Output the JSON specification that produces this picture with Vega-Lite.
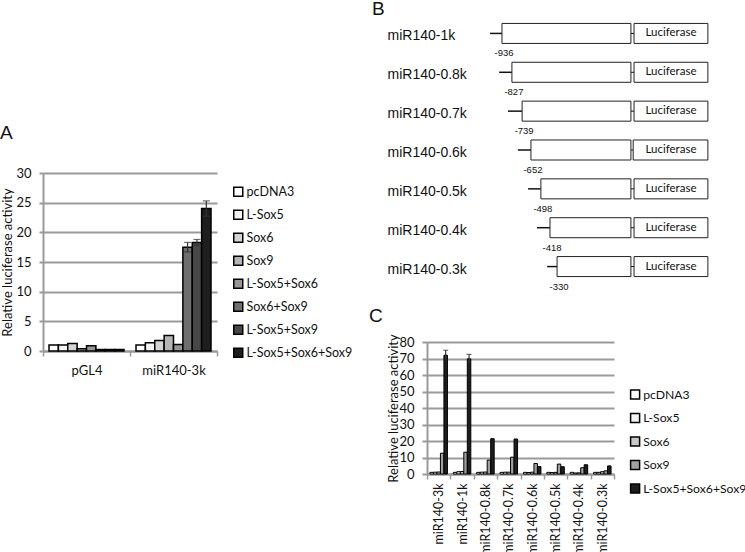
{
  "$schema": "https://vega.github.io/schema/vega-lite/v6.json",
  "padding": {"left": 0, "top": 0, "right": 0, "bottom": 0},
  "background": "white",
  "config": {
    "view": {"stroke": null},
    "font": "Lato",
    "axis": {"labelColor": "#111", "titleColor": "#111", "labelFont": "Lato", "titleFont": "Lato", "titleFontWeight": "normal"},
    "title": {"font": "Liberation Sans", "fontWeight": "normal", "color": "#111", "anchor": "start", "frame": "group"},
    "legend": {"labelFont": "Lato", "labelColor": "#111", "padding": 0}
  },
  "datasets": {
    "a": [
      {"group": "pGL4", "series": "pcDNA3", "value": 1.0, "lo": null, "hi": null},
      {"group": "pGL4", "series": "L-Sox5", "value": 1.0, "lo": null, "hi": null},
      {"group": "pGL4", "series": "Sox6", "value": 1.25, "lo": null, "hi": null},
      {"group": "pGL4", "series": "Sox9", "value": 0.4, "lo": null, "hi": null},
      {"group": "pGL4", "series": "L-Sox5+Sox6", "value": 0.9, "lo": null, "hi": null},
      {"group": "pGL4", "series": "Sox6+Sox9", "value": 0.25, "lo": null, "hi": null},
      {"group": "pGL4", "series": "L-Sox5+Sox9", "value": 0.25, "lo": null, "hi": null},
      {"group": "pGL4", "series": "L-Sox5+Sox6+Sox9", "value": 0.25, "lo": null, "hi": null},
      {"group": "miR140-3k", "series": "pcDNA3", "value": 1.0, "lo": null, "hi": null},
      {"group": "miR140-3k", "series": "L-Sox5", "value": 1.4, "lo": null, "hi": null},
      {"group": "miR140-3k", "series": "Sox6", "value": 1.75, "lo": null, "hi": null},
      {"group": "miR140-3k", "series": "Sox9", "value": 2.6, "lo": null, "hi": null},
      {"group": "miR140-3k", "series": "L-Sox5+Sox6", "value": 1.1, "lo": null, "hi": null},
      {"group": "miR140-3k", "series": "Sox6+Sox9", "value": 17.5, "lo": 16.7, "hi": 18.3},
      {"group": "miR140-3k", "series": "L-Sox5+Sox9", "value": 18.3, "lo": 17.8, "hi": 18.8},
      {"group": "miR140-3k", "series": "L-Sox5+Sox6+Sox9", "value": 24.0, "lo": 22.7, "hi": 25.3}
    ],
    "b": [
      {"construct": "miR140-1k", "site": "-936", "lineStart": 22.2, "boxStart": 26.4, "boxEnd": 71.8, "lucStart": 72.9, "lucEnd": 98.9, "lucMid": 85.9, "reporter": "Luciferase"},
      {"construct": "miR140-0.8k", "site": "-827", "lineStart": 25.4, "boxStart": 29.9, "boxEnd": 71.8, "lucStart": 72.9, "lucEnd": 98.9, "lucMid": 85.9, "reporter": "Luciferase"},
      {"construct": "miR140-0.7k", "site": "-739", "lineStart": 28.5, "boxStart": 33.5, "boxEnd": 71.8, "lucStart": 72.9, "lucEnd": 98.9, "lucMid": 85.9, "reporter": "Luciferase"},
      {"construct": "miR140-0.6k", "site": "-652", "lineStart": 32.0, "boxStart": 36.6, "boxEnd": 71.8, "lucStart": 72.6, "lucEnd": 98.9, "lucMid": 85.9, "reporter": "Luciferase"},
      {"construct": "miR140-0.5k", "site": "-498", "lineStart": 35.6, "boxStart": 40.1, "boxEnd": 71.8, "lucStart": 72.9, "lucEnd": 98.9, "lucMid": 85.9, "reporter": "Luciferase"},
      {"construct": "miR140-0.4k", "site": "-418", "lineStart": 38.7, "boxStart": 43.3, "boxEnd": 71.8, "lucStart": 72.9, "lucEnd": 98.9, "lucMid": 85.9, "reporter": "Luciferase"},
      {"construct": "miR140-0.3k", "site": "-330", "lineStart": 42.3, "boxStart": 45.8, "boxEnd": 71.8, "lucStart": 72.9, "lucEnd": 98.9, "lucMid": 85.9, "reporter": "Luciferase"}
    ],
    "c": [
      {"construct": "miR140-3k", "series": "pcDNA3", "value": 1.0, "lo": null, "hi": null},
      {"construct": "miR140-3k", "series": "L-Sox5", "value": 1.1, "lo": null, "hi": null},
      {"construct": "miR140-3k", "series": "Sox6", "value": 1.2, "lo": null, "hi": null},
      {"construct": "miR140-3k", "series": "Sox9", "value": 12.6, "lo": null, "hi": null},
      {"construct": "miR140-3k", "series": "L-Sox5+Sox6+Sox9", "value": 72.0, "lo": 69.0, "hi": 75.0},
      {"construct": "miR140-1k", "series": "pcDNA3", "value": 1.0, "lo": null, "hi": null},
      {"construct": "miR140-1k", "series": "L-Sox5", "value": 1.4, "lo": null, "hi": null},
      {"construct": "miR140-1k", "series": "Sox6", "value": 1.5, "lo": null, "hi": null},
      {"construct": "miR140-1k", "series": "Sox9", "value": 13.2, "lo": null, "hi": null},
      {"construct": "miR140-1k", "series": "L-Sox5+Sox6+Sox9", "value": 69.8, "lo": 67.1, "hi": 72.5},
      {"construct": "miR140-0.8k", "series": "pcDNA3", "value": 1.0, "lo": null, "hi": null},
      {"construct": "miR140-0.8k", "series": "L-Sox5", "value": 1.1, "lo": null, "hi": null},
      {"construct": "miR140-0.8k", "series": "Sox6", "value": 1.2, "lo": null, "hi": null},
      {"construct": "miR140-0.8k", "series": "Sox9", "value": 8.4, "lo": null, "hi": null},
      {"construct": "miR140-0.8k", "series": "L-Sox5+Sox6+Sox9", "value": 21.4, "lo": null, "hi": null},
      {"construct": "miR140-0.7k", "series": "pcDNA3", "value": 1.0, "lo": null, "hi": null},
      {"construct": "miR140-0.7k", "series": "L-Sox5", "value": 1.1, "lo": null, "hi": null},
      {"construct": "miR140-0.7k", "series": "Sox6", "value": 1.1, "lo": null, "hi": null},
      {"construct": "miR140-0.7k", "series": "Sox9", "value": 10.2, "lo": null, "hi": null},
      {"construct": "miR140-0.7k", "series": "L-Sox5+Sox6+Sox9", "value": 21.2, "lo": null, "hi": null},
      {"construct": "miR140-0.6k", "series": "pcDNA3", "value": 1.0, "lo": null, "hi": null},
      {"construct": "miR140-0.6k", "series": "L-Sox5", "value": 0.9, "lo": null, "hi": null},
      {"construct": "miR140-0.6k", "series": "Sox6", "value": 1.1, "lo": null, "hi": null},
      {"construct": "miR140-0.6k", "series": "Sox9", "value": 6.4, "lo": null, "hi": null},
      {"construct": "miR140-0.6k", "series": "L-Sox5+Sox6+Sox9", "value": 4.5, "lo": null, "hi": null},
      {"construct": "miR140-0.5k", "series": "pcDNA3", "value": 1.0, "lo": null, "hi": null},
      {"construct": "miR140-0.5k", "series": "L-Sox5", "value": 0.9, "lo": null, "hi": null},
      {"construct": "miR140-0.5k", "series": "Sox6", "value": 1.0, "lo": null, "hi": null},
      {"construct": "miR140-0.5k", "series": "Sox9", "value": 6.0, "lo": null, "hi": null},
      {"construct": "miR140-0.5k", "series": "L-Sox5+Sox6+Sox9", "value": 4.4, "lo": null, "hi": null},
      {"construct": "miR140-0.4k", "series": "pcDNA3", "value": 1.0, "lo": null, "hi": null},
      {"construct": "miR140-0.4k", "series": "L-Sox5", "value": 0.6, "lo": null, "hi": null},
      {"construct": "miR140-0.4k", "series": "Sox6", "value": 0.7, "lo": null, "hi": null},
      {"construct": "miR140-0.4k", "series": "Sox9", "value": 3.8, "lo": null, "hi": null},
      {"construct": "miR140-0.4k", "series": "L-Sox5+Sox6+Sox9", "value": 5.6, "lo": null, "hi": null},
      {"construct": "miR140-0.3k", "series": "pcDNA3", "value": 1.0, "lo": null, "hi": null},
      {"construct": "miR140-0.3k", "series": "L-Sox5", "value": 1.0, "lo": null, "hi": null},
      {"construct": "miR140-0.3k", "series": "Sox6", "value": 1.4, "lo": null, "hi": null},
      {"construct": "miR140-0.3k", "series": "Sox9", "value": 1.9, "lo": null, "hi": null},
      {"construct": "miR140-0.3k", "series": "L-Sox5+Sox6+Sox9", "value": 4.9, "lo": null, "hi": null}
    ]
  },
  "hconcat": [
    {
      "vconcat": [
        {"width": 174, "height": 149, "data": {"values": []}, "mark": "point", "encoding": {}},
        {
          "width": 174, "height": 178,
          "data": {"name": "a"},
          "title": {"text": "A", "fontSize": 19, "dx": -43, "offset": 24},
          "encoding": {
            "x": {"field": "group", "type": "nominal", "sort": ["pGL4", "miR140-3k"], "scale": {"paddingInner": 0, "paddingOuter": 0},
                  "axis": {"title": null, "labelAngle": 0, "tickBand": "extent", "labelFontSize": 13, "labelPadding": 8, "tickSize": 5, "tickColor": "#9a9a9a", "tickWidth": 1.5, "domainColor": "#9a9a9a", "domainWidth": 2}},
            "xOffset": {"field": "series", "type": "nominal", "sort": ["pcDNA3", "L-Sox5", "Sox6", "Sox9", "L-Sox5+Sox6", "Sox6+Sox9", "L-Sox5+Sox9", "L-Sox5+Sox6+Sox9"], "scale": {"paddingInner": 0, "paddingOuter": 0.64}}
          },
          "layer": [
            {
              "mark": {"type": "bar", "stroke": "black", "strokeWidth": 1.5},
              "encoding": {
                "y": {"field": "value", "type": "quantitative", "title": "Relative luciferase activity", "scale": {"domain": [0, 30]},
                      "axis": {"values": [0, 5, 10, 15, 20, 25, 30], "titleFontSize": 13, "labelFontSize": 13, "labelPadding": 8, "tickSize": 4, "tickColor": "#9a9a9a", "tickWidth": 2, "gridColor": "#9a9a9a", "gridWidth": 2, "domainColor": "#9a9a9a", "domainWidth": 2, "titlePadding": 1}},
                "color": {"field": "series", "type": "nominal",
                          "scale": {"domain": ["pcDNA3", "L-Sox5", "Sox6", "Sox9", "L-Sox5+Sox6", "Sox6+Sox9", "L-Sox5+Sox9", "L-Sox5+Sox6+Sox9"], "range": ["#ffffff", "#f3f3f3", "#d4d4d4", "#b4b4b4", "#969696", "#6e6e6e", "#474747", "#1e1e1e"]},
                          "legend": {"title": null, "orient": "none", "legendX": 189, "legendY": 12.5, "labelFontSize": 12.5, "symbolType": "square", "symbolSize": 81, "symbolStrokeColor": "black", "symbolStrokeWidth": 1.5, "rowPadding": 7, "labelOffset": 2}}
              }
            },
            {
              "transform": [{"filter": "datum.hi != null"}],
              "mark": {"type": "rule", "color": "#333", "strokeWidth": 1.2},
              "encoding": {"y": {"field": "lo", "type": "quantitative", "title": "Relative luciferase activity",
                                 "axis": {"values": [0, 5, 10, 15, 20, 25, 30], "titleFontSize": 13, "labelFontSize": 13, "labelPadding": 8, "tickSize": 4, "tickColor": "#9a9a9a", "tickWidth": 2, "gridColor": "#9a9a9a", "gridWidth": 2, "domainColor": "#9a9a9a", "domainWidth": 2, "titlePadding": 1}},
                           "y2": {"field": "hi"}}
            },
            {
              "transform": [{"filter": "datum.hi != null"}],
              "mark": {"type": "tick", "color": "#333", "size": 7, "thickness": 1.2},
              "encoding": {"y": {"field": "hi", "type": "quantitative", "title": "Relative luciferase activity",
                                 "axis": {"values": [0, 5, 10, 15, 20, 25, 30], "titleFontSize": 13, "labelFontSize": 13, "labelPadding": 8, "tickSize": 4, "tickColor": "#9a9a9a", "tickWidth": 2, "gridColor": "#9a9a9a", "gridWidth": 2, "domainColor": "#9a9a9a", "domainWidth": 2, "titlePadding": 1}}}
            },
            {
              "transform": [{"filter": "datum.hi != null"}],
              "mark": {"type": "tick", "color": "#333", "size": 7, "thickness": 1.2},
              "encoding": {"y": {"field": "lo", "type": "quantitative", "title": "Relative luciferase activity",
                                 "axis": {"values": [0, 5, 10, 15, 20, 25, 30], "titleFontSize": 13, "labelFontSize": 13, "labelPadding": 8, "tickSize": 4, "tickColor": "#9a9a9a", "tickWidth": 2, "gridColor": "#9a9a9a", "gridWidth": 2, "domainColor": "#9a9a9a", "domainWidth": 2, "titlePadding": 1}}}
            }
          ]
        }
      ],
      "spacing": 10,
      "bounds": "flush",
      "resolve": {"scale": {"color": "independent"}, "legend": {"color": "independent"}}
    },
    {
      "vconcat": [
        {
          "width": 284, "height": 272,
          "data": {"name": "b"},
          "title": {"text": "B", "fontSize": 19, "dx": -55, "offset": -5},
          "encoding": {
            "y": {"field": "construct", "type": "ordinal", "sort": null, "scale": {"paddingInner": 0.485, "paddingOuter": 0.2425},
                  "axis": {"title": null, "ticks": false, "domain": false, "labelAlign": "left", "labelPadding": 40, "labelFontSize": 14, "labelFont": "Liberation Sans", "labelOffset": 3}}
          },
          "layer": [
            {"mark": {"type": "rule", "color": "#111", "strokeWidth": 1.5},
             "encoding": {"x": {"field": "lineStart", "type": "quantitative", "scale": {"domain": [0, 100]}, "axis": null}, "x2": {"field": "boxStart"}}},
            {"mark": {"type": "rule", "color": "#111", "strokeWidth": 1},
             "encoding": {"x": {"field": "boxEnd", "type": "quantitative", "axis": null}, "x2": {"field": "lucStart"}}},
            {"mark": {"type": "rect", "fill": "white", "stroke": "#222", "strokeWidth": 1},
             "encoding": {"x": {"field": "boxStart", "type": "quantitative", "axis": null}, "x2": {"field": "boxEnd"}}},
            {"mark": {"type": "rect", "fill": "white", "stroke": "#222", "strokeWidth": 1},
             "encoding": {"x": {"field": "lucStart", "type": "quantitative", "axis": null}, "x2": {"field": "lucEnd"}}},
            {"mark": {"type": "text", "fontSize": 11.5, "font": "Lato", "color": "#111"},
             "encoding": {"x": {"field": "lucMid", "type": "quantitative", "axis": null}, "text": {"field": "reporter"}}},
            {"mark": {"type": "text", "fontSize": 9.5, "font": "Liberation Sans", "color": "#111", "dy": 20, "dx": 2},
             "encoding": {"x": {"field": "boxStart", "type": "quantitative", "axis": null}, "text": {"field": "site"}}}
          ]
        },
        {
          "width": 187, "height": 132,
          "data": {"name": "c"},
          "title": {"text": "C", "fontSize": 19, "dx": -58, "offset": 8},
          "encoding": {
            "x": {"field": "construct", "type": "nominal", "sort": ["miR140-3k", "miR140-1k", "miR140-0.8k", "miR140-0.7k", "miR140-0.6k", "miR140-0.5k", "miR140-0.4k", "miR140-0.3k"], "scale": {"paddingInner": 0, "paddingOuter": 0},
                  "axis": {"title": null, "labelAngle": -90, "tickBand": "extent", "labelFontSize": 12.5, "labelPadding": 4, "tickSize": 5, "tickColor": "#9a9a9a", "tickWidth": 1.5, "domainColor": "#9a9a9a", "domainWidth": 2}},
            "xOffset": {"field": "series", "type": "nominal", "sort": ["pcDNA3", "L-Sox5", "Sox6", "Sox9", "L-Sox5+Sox6+Sox9"], "scale": {"paddingInner": 0, "paddingOuter": 0.84}}
          },
          "layer": [
            {
              "mark": {"type": "bar", "stroke": "black", "strokeWidth": 1},
              "encoding": {
                "y": {"field": "value", "type": "quantitative", "title": "Relative luciferase activity", "scale": {"domain": [0, 80]},
                      "axis": {"values": [0, 10, 20, 30, 40, 50, 60, 70, 80], "titleFontSize": 13, "labelFontSize": 13, "labelPadding": 8, "tickSize": 5, "tickColor": "#9a9a9a", "tickWidth": 2, "gridColor": "#9a9a9a", "gridWidth": 2, "domainColor": "#9a9a9a", "domainWidth": 2, "titlePadding": -2}},
                "color": {"field": "series", "type": "nominal",
                          "scale": {"domain": ["pcDNA3", "L-Sox5", "Sox6", "Sox9", "L-Sox5+Sox6+Sox9"], "range": ["#ffffff", "#f3f3f3", "#c8c8c8", "#a0a0a0", "#1e1e1e"]},
                          "legend": {"title": null, "orient": "none", "legendX": 202, "legendY": 46.5, "labelFontSize": 12.2, "symbolType": "square", "symbolSize": 81, "symbolStrokeColor": "black", "symbolStrokeWidth": 1.5, "rowPadding": 7.5, "labelOffset": 2}}
              }
            },
            {
              "transform": [{"filter": "datum.hi != null"}],
              "mark": {"type": "rule", "color": "#333", "strokeWidth": 1.2},
              "encoding": {"y": {"field": "lo", "type": "quantitative", "title": "Relative luciferase activity",
                                 "axis": {"values": [0, 10, 20, 30, 40, 50, 60, 70, 80], "titleFontSize": 13, "labelFontSize": 13, "labelPadding": 8, "tickSize": 5, "tickColor": "#9a9a9a", "tickWidth": 2, "gridColor": "#9a9a9a", "gridWidth": 2, "domainColor": "#9a9a9a", "domainWidth": 2, "titlePadding": -2}},
                           "y2": {"field": "hi"}}
            },
            {
              "transform": [{"filter": "datum.hi != null"}],
              "mark": {"type": "tick", "color": "#333", "size": 5, "thickness": 1.2},
              "encoding": {"y": {"field": "hi", "type": "quantitative", "title": "Relative luciferase activity",
                                 "axis": {"values": [0, 10, 20, 30, 40, 50, 60, 70, 80], "titleFontSize": 13, "labelFontSize": 13, "labelPadding": 8, "tickSize": 5, "tickColor": "#9a9a9a", "tickWidth": 2, "gridColor": "#9a9a9a", "gridWidth": 2, "domainColor": "#9a9a9a", "domainWidth": 2, "titlePadding": -2}}}
            }
          ]
        }
      ],
      "spacing": 56,
      "bounds": "flush",
      "resolve": {"scale": {"color": "independent"}, "legend": {"color": "independent"}}
    }
  ],
  "spacing": 384,
  "bounds": "flush",
  "resolve": {
    "scale": {"x": "independent", "y": "independent", "xOffset": "independent", "color": "independent"},
    "axis": {"x": "independent", "y": "independent"},
    "legend": {"color": "independent"}
  }
}
